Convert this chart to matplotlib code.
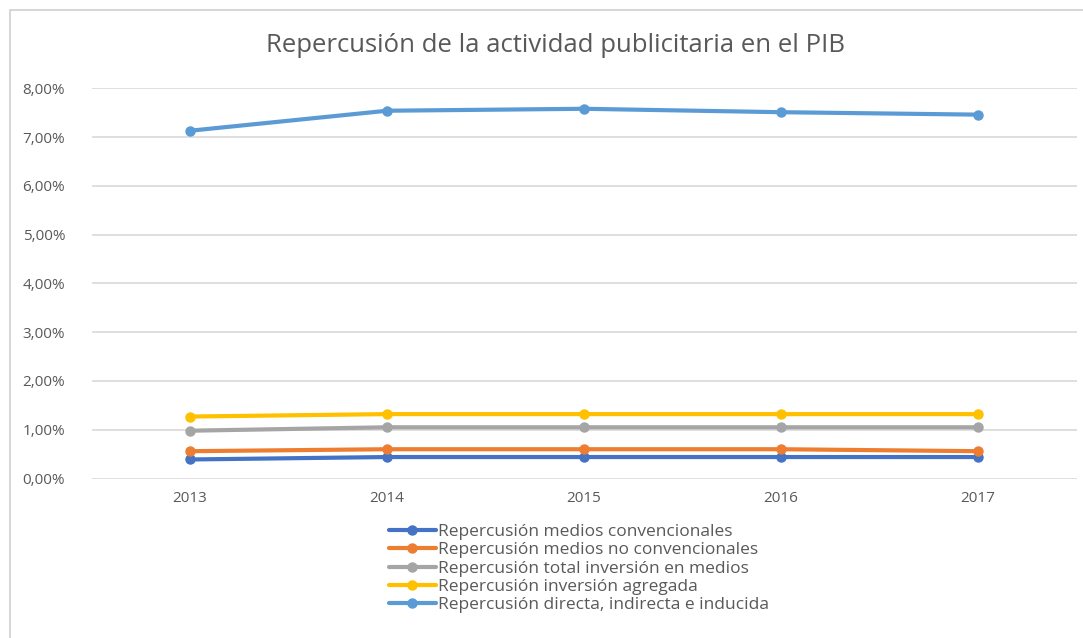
import matplotlib
matplotlib.use("Agg")
import matplotlib.pyplot as plt
from matplotlib.ticker import FuncFormatter
from matplotlib.patches import Rectangle

years = ["2013", "2014", "2015", "2016", "2017"]
conv = [0.0039, 0.0044, 0.0044, 0.0044, 0.0044]
no_conv = [0.0056, 0.0060, 0.0060, 0.0060, 0.0056]
total = [0.0098, 0.0105, 0.0105, 0.0105, 0.0105]
agregada = [0.0127, 0.0132, 0.0132, 0.0132, 0.0132]
directa = [0.0713, 0.0754, 0.0758, 0.0751, 0.0746]

labels = [
    "Repercusión medios convencionales",
    "Repercusión medios no convencionales",
    "Repercusión total inversión en medios",
    "Repercusión inversión agregada",
    "Repercusión directa, indirecta e inducida",
]
colors = ["#4472C4", "#ED7D31", "#A5A5A5", "#FFC000", "#5B9BD5"]
series = [conv, no_conv, total, agregada, directa]

plt.rcParams['font.family'] = ['Open Sans', 'DejaVu Sans']

fig = plt.figure(figsize=(10.83, 6.38), dpi=100)
fig.patches.append(Rectangle((10/1083, -0.1), 1.2, 1 - 10/638 + 0.1,
                             transform=fig.transFigure, fill=False,
                             edgecolor="#d0d0d0", linewidth=1.2, zorder=0))
ax = fig.add_axes([91.5/1083, 1 - 478.5/638, (1076.5 - 91.5)/1083, (478.5 - 88.3)/638])
x = list(range(len(years)))
for s, c, l in zip(series, colors, labels):
    ax.plot(x, s, color=c, lw=3.0, marker="o", markersize=6.5, label=l,
            solid_capstyle="round", zorder=3)

ax.set_xlim(-0.5, len(years) - 0.5)
ax.set_ylim(0, 0.08)
ax.set_yticks([i / 100 for i in range(9)])
ax.yaxis.set_major_formatter(FuncFormatter(lambda v, p: f"{v*100:.2f}%".replace(".", ",")))
ax.set_xticks(x)
ax.set_xticklabels(years)
ax.grid(axis="y", color="#d9d9d9", lw=1.2, zorder=0)
for sp in ax.spines.values():
    sp.set_visible(False)
ax.tick_params(axis="both", length=0, labelsize=11, colors="#595959")
ax.tick_params(axis="y", pad=19)
ax.tick_params(axis="x", pad=9)

fig.text(555/1083, 1 - 45/638, "Repercusión de la actividad publicitaria en el PIB",
         ha="center", va="center", fontsize=18.5, color="#595959")

leg = fig.legend(loc="upper left", bbox_to_anchor=(389/1083, 1 - 524/638),
                 frameon=False, fontsize=12.5, handlelength=2.7, handletextpad=0.1,
                 labelspacing=0.12, borderpad=0, borderaxespad=0)
for t in leg.get_texts():
    t.set_color("#595959")

fig.savefig("out.png", dpi=100)
